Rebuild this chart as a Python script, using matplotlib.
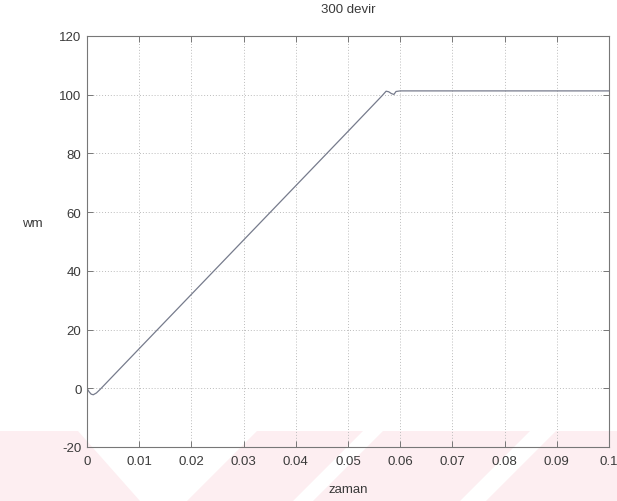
import matplotlib
matplotlib.use("Agg")
import matplotlib.pyplot as plt
from matplotlib.patches import Polygon
from matplotlib.ticker import FixedLocator

plt.rcParams['font.family'] = ['Liberation Sans', 'DejaVu Sans']
plt.rcParams['axes.unicode_minus'] = False

# rotor speed wm over time
t = [0.0, 0.0004, 0.0008, 0.0012, 0.0018, 0.0025, 0.01, 0.02, 0.03, 0.04, 0.05,
     0.0565, 0.0573, 0.0578, 0.0583, 0.0588, 0.0592, 0.0600, 0.07, 0.08, 0.09, 0.1]
wm = [0.0, -1.2, -2.0, -2.2, -1.6, -0.4, 13.5, 32.0, 50.5, 69.0, 87.5,
      99.6, 101.2, 101.0, 100.4, 100.1, 101.1, 101.3, 101.3, 101.3, 101.3, 101.3]

xticks = [0, 0.01, 0.02, 0.03, 0.04, 0.05, 0.06, 0.07, 0.08, 0.09, 0.1]
xticklabels = ['0', '0.01', '0.02', '0.03', '0.04', '0.05', '0.06', '0.07', '0.08', '0.09', '0.1']
yticks = [-20, 0, 20, 40, 60, 80, 100, 120]

W, H = 617, 502
fig = plt.figure(figsize=(W / 100, H / 100), dpi=100)

# faint diagonal band behind the chart
pink = '#fdeef1'
band = [
    [(0, 432), (78, 432), (140, 502), (0, 502)],
    [(257, 432), (363, 432), (293, 502), (187, 502)],
    [(383, 432), (530, 432), (460, 502), (313, 502)],
    [(556, 432), (617, 432), (617, 502), (486, 502)],
]
for poly in band:
    pts = [(x / W, 1 - y / H) for x, y in poly]
    fig.patches.append(Polygon(pts, closed=True, transform=fig.transFigure,
                               facecolor=pink, edgecolor='none', zorder=-10))

ax = fig.add_axes([87 / W, 1 - 448 / H, (609 - 87) / W, (448 - 37) / H])
ax.set_facecolor('none')

ax.plot(t, wm, color='#767b8c', linewidth=0.9)

ax.set_xlim(0, 0.1)
ax.set_ylim(-20, 120)
ax.xaxis.set_major_locator(FixedLocator(xticks))
ax.set_xticklabels(xticklabels)
ax.yaxis.set_major_locator(FixedLocator(yticks))

ax.grid(True, linestyle=(0, (1, 2)), color='#bcbcbc', linewidth=0.7)
ax.tick_params(direction='in', top=True, right=True, length=4, width=0.7,
               colors='#777777', labelcolor='#3a3a3a', labelsize=9.5)
ax.tick_params(axis='x', pad=6)
ax.tick_params(axis='y', pad=4)
for s in ax.spines.values():
    s.set_color('#777777')
    s.set_linewidth(0.8)

ax.set_title('300 devir', fontsize=9.5, color='#3a3a3a', pad=17)
ax.set_xlabel('zaman', fontsize=9.5, color='#3a3a3a', labelpad=11)
fig.text(22 / W, 1 - 224 / H, 'wm', fontsize=9.5, color='#3a3a3a',
         ha='left', va='center')

fig.savefig('out.png', dpi=100)
